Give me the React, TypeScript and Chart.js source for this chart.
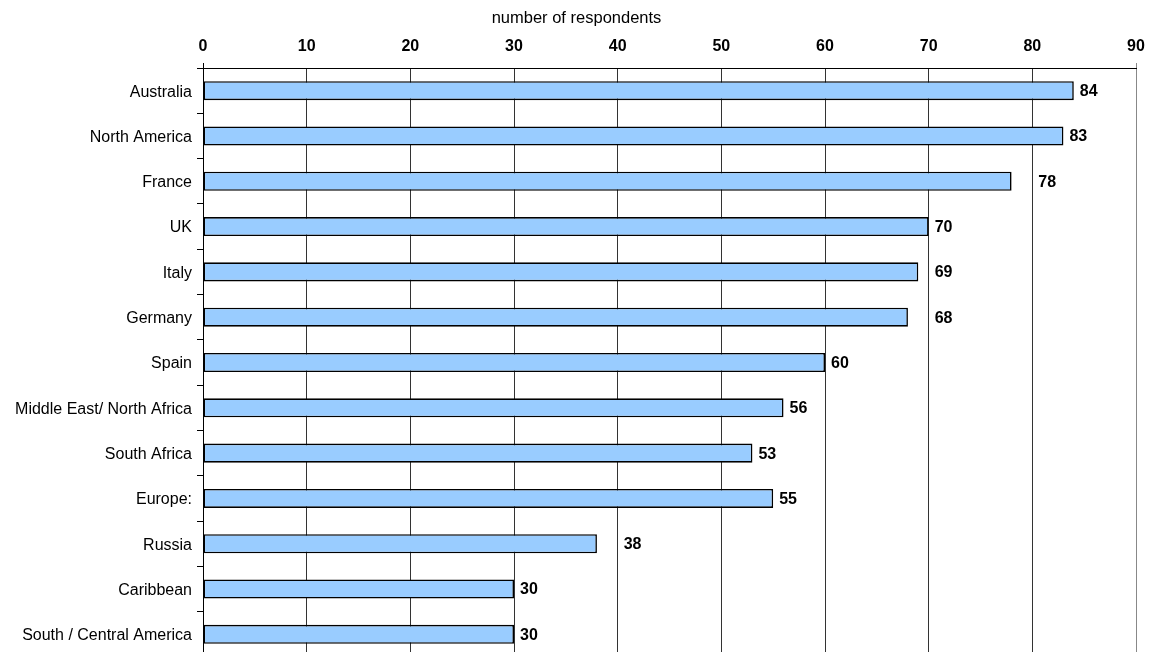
import React, { useEffect, useRef } from "react";
import { Chart, registerables } from "chart.js";

Chart.register(...registerables);

const categories = [
  "Australia",
  "North America",
  "France",
  "UK",
  "Italy",
  "Germany",
  "Spain",
  "Middle East/ North Africa",
  "South Africa",
  "Europe:",
  "Russia",
  "Caribbean",
  "South / Central America",
];
const respondents = [84, 83, 78, 70, 69, 68, 60, 56, 53, 55, 38, 30, 30];
const axisTitle = "number of respondents";
const xMin = 0;
const xMax = 90;
const xStep = 10;

const FONT = '"Liberation Sans", Arial, Helvetica, sans-serif';

const valueLabelPlugin = {
  id: "valueLabels",
  afterDatasetsDraw(chart: any) {
    const ctx = chart.ctx;
    const xs = chart.scales.x;
    const meta = chart.getDatasetMeta(0);
    ctx.save();
    ctx.font = `bold 16px ${FONT}`;
    ctx.fillStyle = "#000";
    ctx.textAlign = "left";
    ctx.textBaseline = "middle";
    meta.data.forEach((bar: any, i: number) => {
      const v = respondents[i];
      const next = Math.ceil(v / xStep) * xStep;
      const anchor = next - v <= 2 ? next : v;
      const x = xs.getPixelForValue(anchor) + 6;
      ctx.fillText(String(v), x, bar.y + 1);
    });
    // short extensions of the outer vertical lines above the axis
    const top = chart.chartArea.top;
    ctx.lineWidth = 1;
    ctx.strokeStyle = "#000";
    ctx.beginPath();
    const x0 = Math.round(xs.getPixelForValue(xMin)) + 0.5;
    ctx.moveTo(x0, top - 5);
    ctx.lineTo(x0, top);
    ctx.stroke();
    ctx.strokeStyle = "#888";
    ctx.beginPath();
    const x9 = Math.round(xs.getPixelForValue(xMax)) + 0.5;
    ctx.moveTo(x9, top - 5);
    ctx.lineTo(x9, top);
    ctx.stroke();
    ctx.restore();
  },
};

export default function App() {
  const ref = useRef<HTMLCanvasElement | null>(null);

  useEffect(() => {
    if (!ref.current) return;
    const chart = new Chart(ref.current, {
      type: "bar",
      data: {
        labels: categories,
        datasets: [
          {
            data: respondents,
            backgroundColor: "#99CCFF",
            borderColor: "#000000",
            borderWidth: 1.6,
            borderSkipped: false,
            categoryPercentage: 1,
            barPercentage: 0.42,
          },
        ],
      },
      options: {
        indexAxis: "y",
        responsive: false,
        animation: false,
        devicePixelRatio: 1,
        layout: { padding: 0 },
        plugins: {
          legend: { display: false },
          tooltip: { enabled: false },
          title: {
            display: true,
            text: axisTitle,
            color: "#000",
            font: { family: FONT, size: 16.5, weight: "normal" },
            padding: { top: 9, bottom: 0 },
          },
        },
        scales: {
          x: {
            position: "top",
            min: xMin,
            max: xMax,
            ticks: {
              stepSize: xStep,
              color: "#000",
              font: { family: FONT, size: 16, weight: "bold" },
              padding: 0,
            },
            grid: {
              drawTicks: true,
              tickLength: 12,
              tickColor: "rgba(0,0,0,0)",
              color: (c: any) => (c.tick && c.tick.value === xMax ? "#888" : "#333"),
              lineWidth: 1,
            },
            border: { display: true, color: "#000", width: 1 },
            afterFit: (s: any) => {
              s.height = 39.2;
              s.paddingLeft = 0;
              s.paddingRight = 17;
            },
          },
          y: {
            ticks: {
              color: "#000",
              font: { family: FONT, size: 16, weight: "normal" },
              padding: 5,
              labelOffset: 1.5,
            },
            grid: {
              offset: true,
              drawOnChartArea: false,
              drawTicks: true,
              tickLength: 6,
              color: "#000",
            },
            border: { display: true, color: "#000", width: 1 },
            afterFit: (s: any) => {
              s.width = 203;
              s.paddingTop = 0;
              s.paddingBottom = 0;
            },
          },
        },
      },
      plugins: [valueLabelPlugin],
    } as any);
    return () => chart.destroy();
  }, []);

  return (
    <div
      style={{
        position: "absolute",
        left: 0,
        top: 0,
        width: 1153,
        height: 652,
        overflow: "hidden",
        background: "#fff",
      }}
    >
      <canvas ref={ref} width={1153} height={657} style={{ display: "block" }} />
    </div>
  );
}
